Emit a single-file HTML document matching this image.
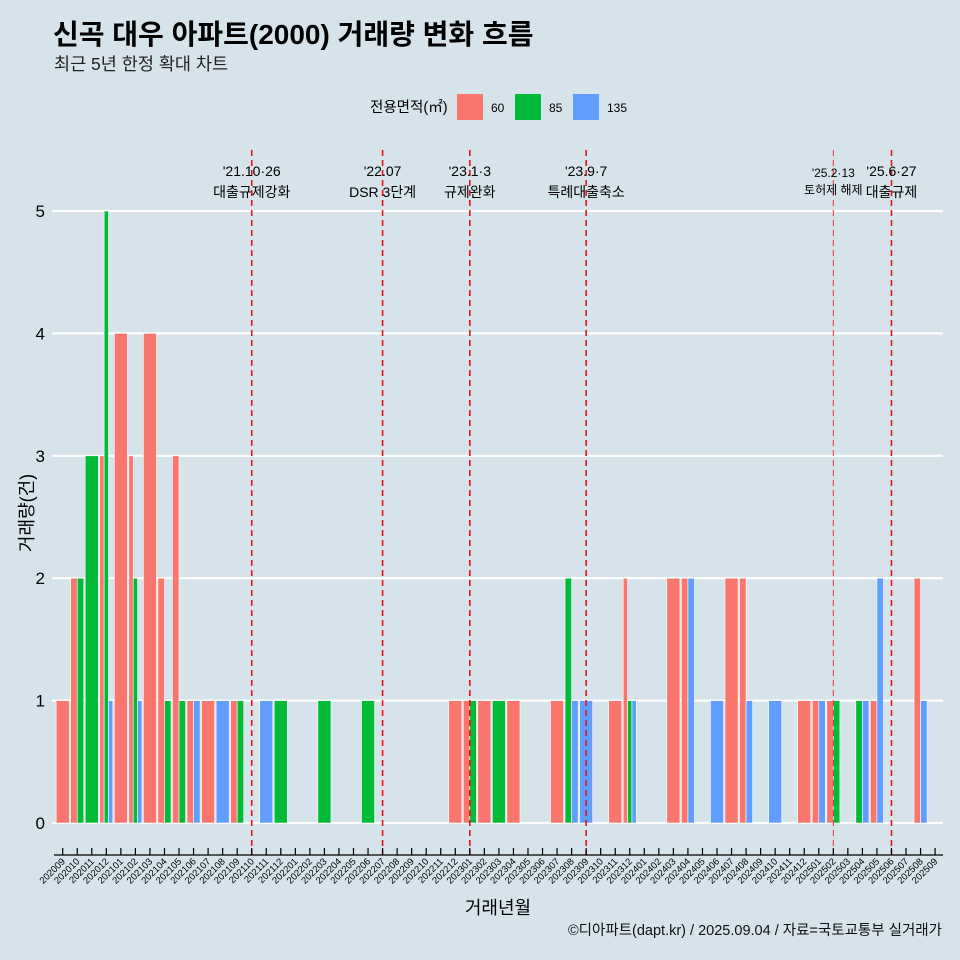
<!DOCTYPE html>
<html><head><meta charset="utf-8">
<style>
body{margin:0;background:#d6e3ea;}
svg{display:block;font-family:"Liberation Sans","Noto Sans CJK KR",sans-serif;}
</style></head>
<body>
<svg id="chart" width="960" height="960" viewBox="0 0 960 960">
<rect width="960" height="960" fill="#d6e3ea"/>
<text x="53" y="44" font-size="28" font-weight="bold" fill="#000">신곡 대우 아파트(2000) 거래량 변화 흐름</text>
<text x="54" y="70" font-size="17.5" fill="#222">최근 5년 한정 확대 차트</text>
<g>
<text x="370" y="112" font-size="14.5" fill="#000">전용면적(㎡)</text>
<rect x="457" y="94" width="26" height="26" fill="#f8766d"/>
<text x="491" y="112" font-size="12">60</text>
<rect x="515" y="94" width="26" height="26" fill="#00ba38"/>
<text x="549" y="112" font-size="12">85</text>
<rect x="573" y="94" width="26" height="26" fill="#619cff"/>
<text x="607" y="112" font-size="12">135</text>
</g>
<g id="grid"></g><g id="bars"></g><g id="events"></g><g id="axes"></g>
<text x="498" y="914" font-size="18" text-anchor="middle">거래년월</text>
<text transform="translate(33,513) rotate(-90)" font-size="18" text-anchor="middle">거래량(건)</text>
<text x="942" y="935" font-size="14.5" text-anchor="end" fill="#111">©디아파트(dapt.kr) / 2025.09.04 / 자료=국토교통부 실거래가</text>
</svg>
<script>
const months=[];
for(let y=2020,m=9;y*100+m<=202509;){months.push(String(y*100+m));m++;if(m>12){m=1;y++;}}
const v60 ={202009:1,202010:2,202012:3,202101:4,202102:3,202103:4,202104:2,202105:3,202106:1,202107:1,202109:1,202212:1,202301:1,202302:1,202304:1,202307:1,202311:1,202312:2,202403:2,202404:2,202407:2,202408:2,202412:1,202501:1,202502:1,202505:1,202508:2};
const v85 ={202010:2,202011:3,202012:5,202102:2,202104:1,202105:1,202109:1,202112:1,202203:1,202206:1,202301:1,202303:1,202308:2,202312:1,202502:1,202504:1};
const v135={202012:1,202102:1,202106:1,202108:1,202111:1,202308:1,202309:1,202312:1,202404:2,202406:1,202408:1,202410:1,202501:1,202504:1,202505:2,202508:1};
const yTicks=[0,1,2,3,4,5];
const events=[{m:"202110",l1:"'21.10·26",l2:"대출규제강화",thin:false},{m:"202207",l1:"'22.07",l2:"DSR 3단계",thin:false},{m:"202301",l1:"'23.1·3",l2:"규제완화",thin:false},{m:"202309",l1:"'23.9·7",l2:"특례대출축소",thin:false},{m:"202502",l1:"'25.2·13",l2:"토허제 해제",thin:true},{m:"202506",l1:"'25.6·27",l2:"대출규제",thin:false}];
const NS="http://www.w3.org/2000/svg";
const x0=62.7,step=14.54;
const xS=i=>x0+i*step;
const yS=v=>823-v*122.4;
function mk(tag,attrs,parent){const e=document.createElementNS(NS,tag);for(const k in attrs)e.setAttribute(k,attrs[k]);parent.appendChild(e);return e;}
const grid=document.getElementById('grid'),bars=document.getElementById('bars'),ev=document.getElementById('events'),ax=document.getElementById('axes');
yTicks.forEach(t=>{
 const l=mk('line',{x1:52,x2:943,y1:yS(t),y2:yS(t),stroke:'#fff','stroke-width':2.2},grid);
 
 
 const tx=mk('text',{x:45,y:yS(t)+6,'font-size':17,'text-anchor':'end'},ax);
 tx.textContent=t;
 
 
});
const series=[[v60,'#f8766d','60'],[v85,'#00ba38','85'],[v135,'#619cff','135']];
months.forEach((m,i)=>{
 const present=series.filter(s=>s[0][m]);
 const n=present.length;if(!n)return;
 const w=step*0.9/n,left=xS(i)-step*0.45;
 present.forEach((s,j)=>{
  const v=s[0][m];
  const r=mk('rect',{x:left+j*w,y:yS(v),width:w,height:yS(0)-yS(v),fill:s[1],stroke:'#fff','stroke-width':0.6},bars);
  
  
 });
});
events.forEach(e=>{
 const i=months.indexOf(e.m),x=xS(i);
 const l=mk('line',{x1:x,x2:x,y1:150,y2:855,stroke:e.thin?'#e8323c':'#e8131f','stroke-width':e.thin?1:1.6,'stroke-dasharray':'6,4'},ev);
 
 
 const fs=e.thin?12:14;
 const t1=mk('text',{x:x,y:e.thin?177:176,'font-size':fs,'text-anchor':'middle'},ev);t1.textContent=e.l1;
 
 
 const t2=mk('text',{x:x,y:e.thin?194:197,'font-size':fs,'text-anchor':'middle'},ev);t2.textContent=e.l2;
 
 
});
const axl=mk('line',{x1:54,x2:943,y1:855,y2:855,stroke:'#000','stroke-width':1.2},ax);


months.forEach((m,i)=>{
 const x=xS(i);
 const tk=mk('line',{x1:x,x2:x,y1:848,y2:855,stroke:'#000','stroke-width':1.2},ax);
 
 
 const t=mk('text',{transform:`translate(${x+3},${862}) rotate(-45)`,'font-size':9.5,'text-anchor':'end'},ax);
 t.textContent=m;
 
 
});
</script>
</body></html>
